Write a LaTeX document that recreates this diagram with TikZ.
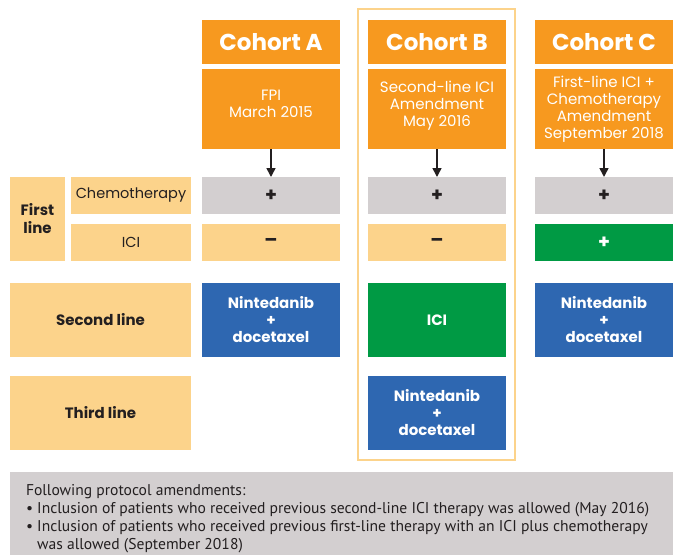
\documentclass[tikz,border=0pt]{standalone}
\usepackage{fontspec}
\setmainfont{Poppins}
\newfontfamily\condfont{PT Sans}
\usetikzlibrary{arrows.meta}
\definecolor{corange}{HTML}{F7991F}
\definecolor{cyellow}{HTML}{FCD38B}
\definecolor{cgray}{HTML}{D3CFD0}
\definecolor{cgreen}{HTML}{009A44}
\definecolor{cblue}{HTML}{2E67B1}
\definecolor{ctext}{HTML}{231F20}
\tikzset{
  base/.style={inner sep=0pt, outer sep=0pt, anchor=north west, align=center},
  head/.style={base, fill=corange, text=white, font=\bfseries\fontsize{23}{27}\selectfont, minimum width=138pt, minimum height=44pt},
  info/.style={base, fill=corange, text=white, font=\fontsize{15}{17}\selectfont, minimum width=138pt, minimum height=80pt},
  cellgray/.style={base, fill=cgray, text=ctext, font=\bfseries\fontsize{19}{20}\selectfont, minimum width=138pt, minimum height=37pt},
  cellyel/.style={base, fill=cyellow, text=ctext, font=\bfseries\fontsize{19}{20}\selectfont, minimum width=138pt, minimum height=37pt},
  cellgrn/.style={base, fill=cgreen, text=white, font=\bfseries\fontsize{19}{20}\selectfont, minimum width=138pt, minimum height=37pt},
  drug/.style={base, fill=cblue, text=white, font=\bfseries\fontsize{15}{17}\selectfont, minimum width=138pt, minimum height=74pt},
  icibox/.style={base, fill=cgreen, text=white, font=\bfseries\fontsize{15}{17}\selectfont, minimum width=138pt, minimum height=74pt},
  lab/.style={base, fill=cyellow, text=ctext, font=\fontsize{14.5}{17}\selectfont, minimum width=120pt, minimum height=37pt},
  labbig/.style={base, fill=cyellow, text=ctext, font=\bfseries\fontsize{15}{17}\selectfont, minimum width=181pt, minimum height=74pt},
  arr/.style={line width=1.6pt, -{Triangle[width=9pt,length=9pt]}, draw=ctext},
}
\begin{document}
\begin{tikzpicture}[x=1pt,y=1pt]
\useasboundingbox (0,0) rectangle (675,-555);
% Cohort B outline
\node[base, draw=cyellow, line width=2pt, minimum width=157pt, minimum height=451pt] (outB) at (358,-9) {};
% headers
\node[head] (hA) at (202,-20) {Cohort A};
\node[head] (hB) at (368,-20) {Cohort B};
\node[head] (hC) at (535,-20) {Cohort C};
% info boxes
\node[info] (iA) at (202,-69) {FPI\\March 2015\\[-11pt]\strut};
\node[info] (iB) at (368,-69) {Second-line ICI\\Amendment\\May 2016\\[-11pt]\strut};
\node[info] (iC) at (535,-69) {First-line ICI +\\Chemotherapy\\Amendment\\September 2018};
% first line rows
\node[base, fill=cyellow, text=ctext, font=\bfseries\fontsize{15}{18}\selectfont, minimum width=55pt, minimum height=84pt] (fl) at (10,-177) {First\\line};
\node[lab] (chemo) at (71,-177) {Chemotherapy};
\node[lab] (ici) at (71,-224) {ICI};
\node[cellgray] (cA) at (202,-177) {+};
\node[cellgray] (cB) at (368,-177) {+};
\node[cellgray] (cC) at (535,-177) {+};
\node[cellyel] (kA) at (202,-224) {--};
\node[cellyel] (kB) at (368,-224) {--};
\node[cellgrn] (kC) at (535,-224) {+};
% arrows
\draw[arr] (iA.south) -- (cA.north);
\draw[arr] (iB.south) -- (cB.north);
\draw[arr] (iC.south) -- (cC.north);
% second line
\node[labbig] (sl) at (10,-283) {Second line};
\node[drug] (sA) at (202,-283) {Nintedanib\\+\\docetaxel};
\node[icibox] (sB) at (368,-283) {ICI};
\node[drug] (sC) at (535,-283) {Nintedanib\\+\\docetaxel};
% third line
\node[labbig] (tl) at (10,-376) {Third line};
\node[drug] (tB) at (368,-376) {Nintedanib\\+\\docetaxel};
% bottom note
\node[base, fill=cgray, minimum width=663pt, minimum height=83pt] (note) at (10,-472) {};
\node[base, align=left, text=ctext, font=\condfont\fontsize{15.6}{18}\selectfont] (notetext) at (26,-484) {Following protocol amendments:\\
\textbullet\ Inclusion of patients who received previous second-line ICI therapy was allowed (May 2016)\\
\textbullet\ Inclusion of patients who received previous first-line therapy with an ICI plus chemotherapy\\
\phantom{\textbullet\ }was allowed (September 2018)};
\end{tikzpicture}
\end{document}
